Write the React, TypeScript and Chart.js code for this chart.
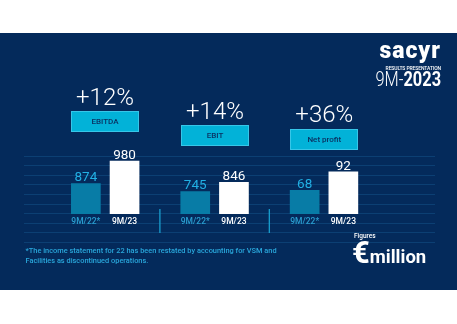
import React, { useEffect, useRef } from "react";
import { Chart, registerables } from "chart.js";

Chart.register(...registerables);

// ---- data ----
const metrics = ["EBITDA", "EBIT", "Net profit"];
const growthLabels = ["+12%", "+14%", "+36%"];
const periods = ["9M/22*", "9M/23"];
const ebitdaValues = [874, 980];
const ebitValues = [745, 846];
const netProfitValues = [68, 92];
// per-metric hidden value-axis ranges (each metric drawn on its own scale)
const axisMin = [730, 500, 37];
const axisMax = [1030, 1190, 120];
const footnote = [
  "*The income statement for 22 has been restated by accounting for VSM and",
  "Facilities as discontinued operations.",
];

// ---- styles ----
const NAVY = "#042a5b";
const CYAN = "#02b2d8";
const barColors = ["#087ca6", "#ffffff"];
const valueColors = ["#22b0e4", "#ffffff"];
const periodColors = ["#2a9ed0", "#ffffff"];
const FONT = "Roboto, 'DejaVu Sans', sans-serif";

const boxLayout = [
  { left: 71, top: 111 },
  { left: 181, top: 125.3 },
  { left: 290.3, top: 128.7 },
];

const allValues = [ebitdaValues, ebitValues, netProfitValues];

const labelPlugin = {
  id: "barLabels",
  beforeDatasetsDraw(chart: any) {
    const { ctx, chartArea, scales } = chart;
    const xs = scales.x;
    ctx.save();
    ctx.strokeStyle = "#1aa6d6";
    ctx.lineWidth = 1.2;
    for (let i = 1; i < metrics.length; i++) {
      const x = (xs.getPixelForValue(i - 1) + xs.getPixelForValue(i)) / 2;
      ctx.beginPath();
      ctx.moveTo(x, chartArea.bottom - 5);
      ctx.lineTo(x, chartArea.bottom + 19);
      ctx.stroke();
    }
    ctx.restore();
  },
  afterDatasetsDraw(chart: any) {
    const { ctx, chartArea } = chart;
    ctx.save();
    ctx.textAlign = "center";
    chart.data.datasets.forEach((ds: any, di: number) => {
      const meta = chart.getDatasetMeta(di);
      const p = ds.periodIndex;
      meta.data.forEach((el: any, i: number) => {
        const v = ds.data[i];
        if (v === null || v === undefined) return;
        ctx.fillStyle = valueColors[p];
        ctx.font = `400 13.5px ${FONT}`;
        ctx.textBaseline = "alphabetic";
        ctx.fillText(String(v), el.x, el.y - 2);
        ctx.fillStyle = periodColors[p];
        ctx.font = `500 8.5px ${FONT}`;
        ctx.textBaseline = "middle";
        ctx.fillText(periods[p], el.x, chartArea.bottom + 8);
      });
    });
    ctx.restore();
  },
};

function BarsChart() {
  const ref = useRef<HTMLCanvasElement>(null);
  useEffect(() => {
    if (!ref.current) return;
    const datasets: any[] = [];
    metrics.forEach((m, mi) => {
      periods.forEach((p, pi) => {
        datasets.push({
          label: `${m} ${p}`,
          data: metrics.map((_, k) => (k === mi ? allValues[mi][pi] : null)),
          backgroundColor: barColors[pi],
          borderWidth: 0,
          yAxisID: `y${mi}`,
          stack: `s${mi}${pi}`,
          skipNull: true,
          categoryPercentage: 0.7075,
          barPercentage: 0.767,
          periodIndex: pi,
        });
      });
    });
    const scales: any = {
      x: { type: "category", display: false, offset: true, grid: { display: false } },
    };
    metrics.forEach((_, mi) => {
      scales[`y${mi}`] = {
        type: "linear",
        display: false,
        min: axisMin[mi],
        max: axisMax[mi],
      };
    });
    const chart = new Chart(ref.current, {
      type: "bar",
      data: { labels: metrics, datasets },
      options: {
        animation: false,
        responsive: false,
        maintainAspectRatio: false,
        devicePixelRatio: 1,
        layout: { padding: { left: 50.5, right: 78.3, top: 150, bottom: 110 } },
        plugins: { legend: { display: false }, tooltip: { enabled: false } },
        scales,
      },
      plugins: [labelPlugin],
    } as any);
    return () => chart.destroy();
  }, []);
  return (
    <canvas
      ref={ref}
      width={457}
      height={324}
      style={{ position: "absolute", left: 0, top: 0, width: 457, height: 324 }}
    />
  );
}

const gridLines = [156, 165.6, 175.2, 184.8, 194.4, 204, 213.6, 223.2, 232.8, 242.4];

export default function App() {
  return (
    <div
      style={{
        position: "absolute",
        left: 0,
        top: 0,
        width: 457,
        height: 324,
        background: "#ffffff",
        overflow: "hidden",
        fontFamily: FONT,
      }}
    >
      <div style={{ position: "absolute", left: 0, top: 33, width: 457, height: 257, background: NAVY }} />
      {gridLines.map((y, i) => (
        <div
          key={i}
          style={{ position: "absolute", left: 24, top: y - 0.5, width: 411, height: 1, background: "#0c3f73" }}
        />
      ))}
      <BarsChart />
      {metrics.map((m, i) => (
        <React.Fragment key={m}>
          <div
            style={{
              position: "absolute",
              left: boxLayout[i].left - 20,
              width: 108,
              top: boxLayout[i].top - 26.5,
              height: 24,
              lineHeight: "24px",
              textAlign: "center",
              color: "#ffffff",
              fontSize: 24,
              fontWeight: 300,
            }}
          >
            {growthLabels[i]}
          </div>
          <div
            style={{
              position: "absolute",
              left: boxLayout[i].left,
              top: boxLayout[i].top,
              width: 68,
              height: 21,
              boxSizing: "border-box",
              background: CYAN,
              border: "1px solid #37c6e8",
              color: "#0b2e5e",
              fontSize: 8,
              fontWeight: 500,
              display: "flex",
              alignItems: "center",
              justifyContent: "center",
            }}
          >
            {m}
          </div>
        </React.Fragment>
      ))}
      {/* logo */}
      <div
        style={{
          position: "absolute",
          right: 16,
          top: 39,
          color: "#fff",
          fontSize: 23,
          fontWeight: 900,
          lineHeight: "24px",
          letterSpacing: 1,
        }}
      >
        sacyr
      </div>
      <div
        style={{
          position: "absolute",
          right: 16,
          top: 64.5,
          color: "#fff",
          fontSize: 5,
          fontWeight: 500,
          lineHeight: "6px",
          letterSpacing: -0.1,
        }}
      >
        RESULTS PRESENTATION
      </div>
      <div
        style={{
          position: "absolute",
          right: 16,
          top: 69.5,
          color: "#fff",
          fontSize: 19.5,
          lineHeight: "20px",
          transform: "scaleX(0.84)",
          transformOrigin: "right center",
          whiteSpace: "nowrap",
        }}
      >
        <span style={{ fontWeight: 300 }}>9M-</span>
        <span style={{ fontWeight: 700 }}>2023</span>
      </div>
      {/* footnote */}
      <div
        style={{
          position: "absolute",
          left: 25.5,
          top: 246,
          color: "#2aa8dc",
          fontSize: 7.4,
          fontWeight: 500,
          lineHeight: "9.6px",
          whiteSpace: "nowrap",
        }}
      >
        {footnote[0]}
        <br />
        {footnote[1]}
      </div>
      {/* units */}
      <div
        style={{
          position: "absolute",
          left: 354,
          top: 233,
          color: "#fff",
          fontSize: 6.5,
          fontWeight: 500,
          lineHeight: "7px",
        }}
      >
        Figures
      </div>
      <div
        style={{
          position: "absolute",
          left: 352,
          top: 238,
          color: "#fff",
          fontWeight: 700,
          whiteSpace: "nowrap",
          lineHeight: "30px",
        }}
      >
        <span style={{ fontSize: 31 }}>€</span>
        <span style={{ fontSize: 18.5 }}>million</span>
      </div>
    </div>
  );
}
